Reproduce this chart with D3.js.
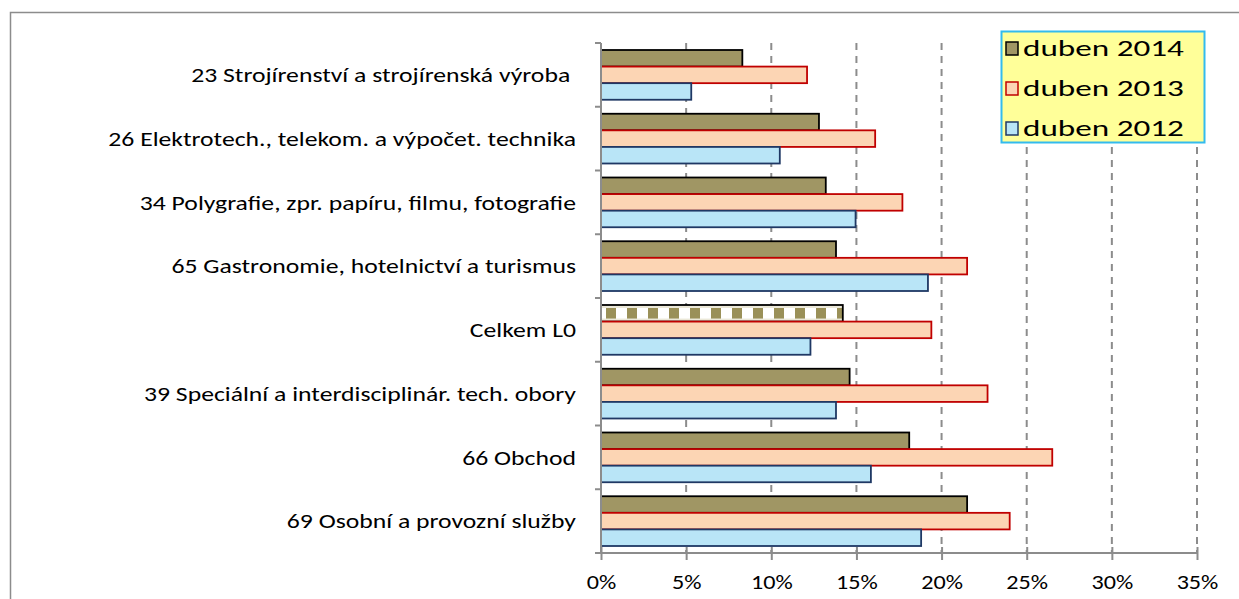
<!DOCTYPE html>
<html>
<head>
<meta charset="utf-8">
<script src="https://cdn.jsdelivr.net/npm/d3@7"></script>
<style>
  body { margin: 0; background: #fff; }
  text { font-family: Calibri, Carlito, "Liberation Sans", Arial, sans-serif; fill: #000; }
</style>
</head>
<body>
<div id="container"></div>
<script>
// ******* Data *******
var categories = [
  "23 Strojírenství a strojírenská výroba ",
  "26 Elektrotech., telekom. a výpočet. technika",
  "34 Polygrafie, zpr. papíru, filmu, fotografie",
  "65 Gastronomie, hotelnictví a turismus",
  "Celkem L0",
  "39 Speciální a interdisciplinár. tech. obory",
  "66 Obchod",
  "69 Osobní a provozní služby"
];
var series = ["duben 2014", "duben 2013", "duben 2012"];
var values2014 = [8.3, 12.8, 13.2, 13.8, 14.2, 14.6, 18.1, 21.5];
var values2013 = [12.1, 16.1, 17.7, 21.5, 19.4, 22.7, 26.5, 24.0];
var values2012 = [5.3, 10.5, 14.95, 19.2, 12.3, 13.8, 15.85, 18.8];
var xTicks = [0, 5, 10, 15, 20, 25, 30, 35];

var fills = {"duben 2014": "#a09664", "duben 2013": "#fcd5b4", "duben 2012": "#b9e5f7"};
var strokes = {"duben 2014": "#000000", "duben 2013": "#c00000", "duben 2012": "#1f3864"};
var valuesBySeries = {"duben 2014": values2014, "duben 2013": values2013, "duben 2012": values2012};

var width = 1239, height = 599;

var svg = d3.select("#container").append("svg")
  .attr("width", width)
  .attr("height", height);

// ******* Scales *******
var x = d3.scaleLinear().domain([0, 35]).range([601, 1197]);
var y = d3.scaleBand().domain(categories).range([43, 553]).padding(0);
var ySub = d3.scaleBand().domain(series).range([7, y.bandwidth() - 7]).padding(0);

// pattern for the "Celkem" bar (row of squares)
var barTop = ySub("duben 2014"), barH = ySub.bandwidth();
var defs = svg.append("defs");
var pat = defs.append("pattern")
  .attr("id", "checker")
  .attr("patternUnits", "userSpaceOnUse")
  .attr("x", x(0) + 4)
  .attr("width", 21)
  .attr("height", 200);
pat.append("rect").attr("width", 21).attr("height", 200).attr("fill", "#ebe8d8");
pat.append("rect").attr("x", 0).attr("y", barTop + 3).attr("width", 21).attr("height", barH - 6).attr("fill", "#ffffff");
pat.append("rect").attr("x", 1).attr("y", barTop + 3).attr("width", 10).attr("height", barH - 6).attr("fill", "#9a9058");

// chart frame
svg.append("rect")
  .attr("x", 10.5).attr("y", 12.5)
  .attr("width", 1300).attr("height", 700)
  .attr("fill", "none")
  .attr("stroke", "#8c8c8c")
  .attr("stroke-width", 1.5);

// gridlines (dashed)
svg.append("g")
  .selectAll("line")
  .data(xTicks.slice(1))
  .enter().append("line")
  .attr("x1", function(d) { return x(d); })
  .attr("x2", function(d) { return x(d); })
  .attr("y1", 43).attr("y2", 553)
  .attr("stroke", "#8c8c8c")
  .attr("stroke-width", 2)
  .attr("stroke-dasharray", "7,6");

// ******* Bars *******
var groups = svg.append("g").selectAll("g")
  .data(categories)
  .enter().append("g")
  .attr("transform", function(d) { return "translate(0," + y(d) + ")"; });

groups.selectAll("rect")
  .data(function(c, i) {
    return series.map(function(s) { return {cat: c, series: s, value: valuesBySeries[s][i]}; });
  })
  .enter().append("rect")
  .attr("x", x(0))
  .attr("y", function(d) { return ySub(d.series); })
  .attr("width", function(d) { return x(d.value) - x(0); })
  .attr("height", ySub.bandwidth())
  .attr("fill", function(d) {
    if (d.cat == "Celkem L0" && d.series == "duben 2014") return "url(#checker)";
    return fills[d.series];
  })
  .attr("stroke", function(d) { return strokes[d.series]; })
  .attr("stroke-width", 1.8);

// ******* Axes *******
var xAxis = d3.axisBottom(x)
  .tickValues(xTicks)
  .tickSize(7)
  .tickFormat(function(d) { return d + "%"; });

var gx = svg.append("g")
  .attr("transform", "translate(0,553)")
  .call(xAxis);
gx.select(".domain").attr("stroke", "#8c8c8c").attr("stroke-width", 2).attr("d", "M" + x(0) + ",0H" + x(35));
gx.selectAll(".tick line").attr("stroke", "#8c8c8c").attr("stroke-width", 2).attr("y1", -6);
gx.selectAll(".tick text")
  .attr("y", 0)
  .attr("dy", 0)
  .attr("transform", "translate(0,36) scale(1.15,1)")
  .style("font-size", "21px")
  .attr("fill", "#000");

var yAxis = d3.axisLeft(y).tickSize(0).tickFormat("");
var gy = svg.append("g")
  .attr("transform", "translate(" + x(0) + ",0)")
  .call(yAxis);
gy.select(".domain").attr("stroke", "#8c8c8c").attr("stroke-width", 2).attr("d", "M0,43V553");

// category separator ticks
svg.append("g").selectAll("line")
  .data(d3.range(categories.length + 1))
  .enter().append("line")
  .attr("x1", x(0) - 6).attr("x2", x(0))
  .attr("y1", function(i) { return 43 + i * y.bandwidth(); })
  .attr("y2", function(i) { return 43 + i * y.bandwidth(); })
  .attr("stroke", "#8c8c8c")
  .attr("stroke-width", 2);

// category labels (stretched horizontally like the reference)
var labels = svg.append("g").selectAll("text")
  .data(categories)
  .enter().append("text")
  .attr("x", 0)
  .attr("y", 0)
  .attr("dy", "0.35em")
  .attr("text-anchor", "end")
  .style("font-size", "21px")
  .style("white-space", "pre")
  .text(function(d) { return d; });
var refLen = labels.filter(function(d, i) { return i == 1; }).node().getComputedTextLength();
var k = 468 / refLen;
labels.attr("transform", function(d) {
  return "translate(576," + (y(d) + y.bandwidth() / 2) + ") scale(" + k + ",1)";
});

// ******* Legend *******
var legend = svg.append("g");
legend.append("rect")
  .attr("x", 1001.5).attr("y", 31.5)
  .attr("width", 203).attr("height", 111)
  .attr("fill", "#ffff99")
  .attr("stroke", "#33bbee")
  .attr("stroke-width", 2);

var items = legend.selectAll("g")
  .data(series)
  .enter().append("g")
  .attr("transform", function(d, i) { return "translate(1006," + (48 + i * 40) + ")"; });
items.append("rect")
  .attr("x", 0).attr("y", -6)
  .attr("width", 12).attr("height", 13)
  .attr("fill", function(d) { return fills[d]; })
  .attr("stroke", function(d) { return strokes[d]; })
  .attr("stroke-width", 1.5);
var legText = items.append("text")
  .attr("dy", "0.35em")
  .style("font-size", "23px")
  .text(function(d) { return d; });
var legLen = legText.node().getComputedTextLength();
var kl = 161 / legLen;
legText.attr("transform", "translate(17,0) scale(" + kl + ",1)");
</script>
</body>
</html>
